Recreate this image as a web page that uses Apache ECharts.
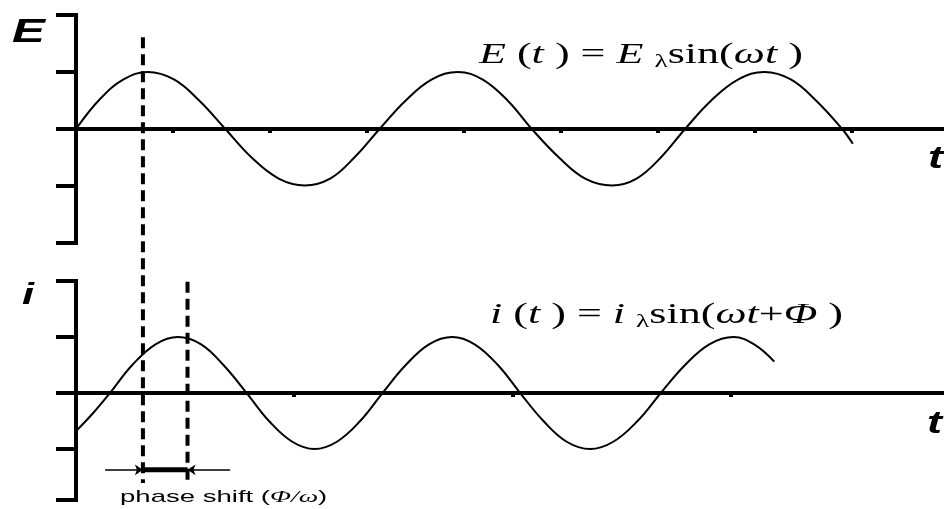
<!DOCTYPE html>
<html>
<head>
<meta charset="utf-8">
<script src="https://cdn.jsdelivr.net/npm/echarts@6/dist/echarts.min.js"></script>
<style>
  html, body { margin: 0; padding: 0; background: #fff; }
  #chart { width: 944px; height: 509px; }
</style>
</head>
<body>
<div id="chart"></div>
<script>
// Time runs along both panels on the same scale (one unit = one tick step of the E panel)
const T_MAX = 8.95;

// E(t): points along the source voltage curve
const eTime  = [0, 0.25, 0.49, 0.74, 1.01, 1.27, 1.54, 1.81, 2.09, 2.36, 2.62, 2.87, 3.13, 3.40, 3.67, 3.94, 4.19, 4.45, 4.70,
                4.98, 5.25, 5.53, 5.78, 6.03, 6.28, 6.55, 6.83, 7.10, 7.37, 7.63, 7.90, 8.01];
const eValue = [0, 0.53, 0.87, 1.00, 0.87, 0.50, 0, -0.50, -0.87, -0.99, -0.87, -0.50, 0, 0.50, 0.87, 1.00, 0.87, 0.50, 0,
                -0.50, -0.87, -0.99, -0.87, -0.50, 0, 0.50, 0.87, 1.00, 0.87, 0.50, 0, -0.26];

// i(t): points along the current curve (leads E by the phase shift)
const iTime  = [0, 0.17, 0.35, 0.58, 0.82, 1.05, 1.29, 1.52, 1.76, 1.99, 2.23, 2.46, 2.69, 2.93, 3.16, 3.40, 3.64, 3.88,
                4.11, 4.35, 4.58, 4.82, 5.06, 5.30, 5.54, 5.79, 6.03, 6.28, 6.53, 6.78, 7.00, 7.20];
const iValue = [-0.68, -0.37, 0, 0.50, 0.87, 1.00, 0.87, 0.50, 0, -0.50, -0.87, -1.00, -0.87, -0.50, 0, 0.50, 0.87, 1.00,
                0.87, 0.50, 0, -0.50, -0.87, -1.00, -0.87, -0.50, 0, 0.50, 0.87, 1.00, 0.86, 0.56];

// Tick marks
const eTimeTicks  = [1, 2, 3, 4, 5, 6, 7, 8];
const iTimeTicks  = [2.25, 4.5, 6.75];
const eLevelTicks = [-2, -1, 0, 1, 2];
const iLevelTicks = [-1.91, -1, 0, 1, 2];

// Phase-shift guides, on the guide scale (E units carried down the whole page)
const guideTime  = [0.69, 1.15];
const guideFrom  = [1.61, -2.68];
const guideTo    = [-6.21, -6.21];
const shiftLevel = -5.98;
const arrowTails = [0.30, 1.59];

const INK = '#000';

function zip(xs, ys) { return xs.map((x, k) => [x, ys[k]]); }

function timeAxis(gridIndex, ticks, show) {
  return {
    type: 'value', gridIndex, min: 0, max: T_MAX, show,
    axisLine: { show: true, onZero: true, lineStyle: { color: INK, width: 4 } },
    axisTick: { show: true, inside: false, length: 4, customValues: ticks, lineStyle: { color: INK, width: 4 } },
    axisLabel: { show: false }, splitLine: { show: false }
  };
}
function levelAxis(gridIndex, min, max, ticks, show) {
  return {
    type: 'value', gridIndex, min, max, show,
    axisLine: { show: true, lineStyle: { color: INK, width: 4, cap: 'square' } },
    axisTick: { show: true, inside: false, length: 20, customValues: ticks, lineStyle: { color: INK, width: 4 } },
    axisLabel: { show: false }, splitLine: { show: false }
  };
}

const serif = '"Liberation Serif", "Times New Roman", serif';
const sans  = '"Liberation Sans", Arial, sans-serif';

const formulaRich = {
  n:   { fontFamily: serif, fontSize: 29, lineHeight: 32, fill: INK },
  it:  { fontFamily: serif, fontSize: 29, lineHeight: 32, fontStyle: 'italic', fill: INK },
  sub: { fontFamily: serif, fontSize: 18, lineHeight: 19, verticalAlign: 'bottom', fill: INK }
};

const curveStyle = { color: INK, width: 2 };

const option = {
  backgroundColor: '#fff',
  animation: false,
  grid: [
    { left: 76, right: 0, top: 15, height: 228 },
    { left: 76, right: 0, top: 281, height: 219 },
    { left: 76, right: 0, top: 15, bottom: 0 }
  ],
  xAxis: [
    timeAxis(0, eTimeTicks, true),
    timeAxis(1, iTimeTicks, true),
    { type: 'value', gridIndex: 2, min: 0, max: T_MAX, show: false }
  ],
  yAxis: [
    levelAxis(0, -2, 2, eLevelTicks, true),
    levelAxis(1, -1.91, 2, iLevelTicks, true),
    { type: 'value', gridIndex: 2, min: -6.667, max: 2, show: false }
  ],
  series: [
    {
      name: 'E(t)', type: 'line', xAxisIndex: 0, yAxisIndex: 0,
      data: zip(eTime, eValue), smooth: 0.4, symbol: 'none',
      lineStyle: curveStyle, z: 3
    },
    {
      name: 'i(t)', type: 'line', xAxisIndex: 1, yAxisIndex: 1,
      data: zip(iTime, iValue), smooth: 0.4, symbol: 'none',
      lineStyle: curveStyle, z: 3
    },
    // dashed guides at the two peaks
    ...guideTime.map((t, k) => ({
      type: 'line', xAxisIndex: 2, yAxisIndex: 2, symbol: 'none', z: 4,
      data: [[t, guideFrom[k]], [t, guideTo[k]]],
      lineStyle: { color: INK, width: 4, type: [11, 6] }
    })),
    // thick bar spanning the phase shift
    {
      type: 'line', xAxisIndex: 2, yAxisIndex: 2, symbol: 'none', z: 4,
      data: [[guideTime[0], shiftLevel], [guideTime[1], shiftLevel]],
      lineStyle: { color: INK, width: 5 }
    },
    // arrows pointing in at the guides
    {
      type: 'lines', coordinateSystem: 'cartesian2d', xAxisIndex: 2, yAxisIndex: 2, z: 4,
      symbol: ['none', 'arrow'], symbolSize: 8,
      lineStyle: { color: INK, width: 1.5, opacity: 1 },
      data: [
        { coords: [[arrowTails[0], shiftLevel], [guideTime[0], shiftLevel]] },
        { coords: [[arrowTails[1], shiftLevel], [guideTime[1], shiftLevel]] }
      ]
    }
  ],
  graphic: [
    { type: 'text', x: 12, y: 16, scaleX: 1.45,
      style: { text: 'E', fontFamily: sans, fontSize: 34, fontWeight: 'bold', fontStyle: 'italic', fill: INK, textVerticalAlign: 'top' } },
    { type: 'text', x: 22, y: 281, scaleX: 1.45,
      style: { text: 'i', fontFamily: sans, fontSize: 30, fontWeight: 'bold', fontStyle: 'italic', fill: INK, textVerticalAlign: 'top' } },
    { type: 'text', x: 928, y: 144, scaleX: 1.45,
      style: { text: 't', fontFamily: sans, fontSize: 31, fontWeight: 'bold', fontStyle: 'italic', fill: INK, textVerticalAlign: 'top' } },
    { type: 'text', x: 927, y: 409, scaleX: 1.45,
      style: { text: 't', fontFamily: sans, fontSize: 31, fontWeight: 'bold', fontStyle: 'italic', fill: INK, textVerticalAlign: 'top' } },
    { type: 'text', x: 479, y: 39, scaleX: 1.52,
      style: { text: '{it|E} ({it|t} ) = {it|E} {sub|λ}{n|sin(}{it|ωt} )', fontFamily: serif, fontSize: 29, fill: INK,
               textVerticalAlign: 'top', rich: formulaRich } },
    { type: 'text', x: 490, y: 299, scaleX: 1.52,
      style: { text: '{it|i} ({it|t} ) = {it|i} {sub|λ}{n|sin(}{it|ωt}+{it|Φ} )', fontFamily: serif, fontSize: 29, fill: INK,
               textVerticalAlign: 'top', rich: formulaRich } },
    { type: 'text', x: 120, y: 489, scaleX: 1.62,
      style: { text: 'phase shift ({it|Φ/ω})', fontFamily: sans, fontSize: 17, fill: INK, textVerticalAlign: 'top',
               rich: { it: { fontFamily: serif, fontStyle: 'italic', fontSize: 17, fill: INK } } } }
  ]
};

const chart = echarts.init(document.getElementById('chart'), null, { renderer: 'canvas' });
chart.setOption(option);
</script>
</body>
</html>
